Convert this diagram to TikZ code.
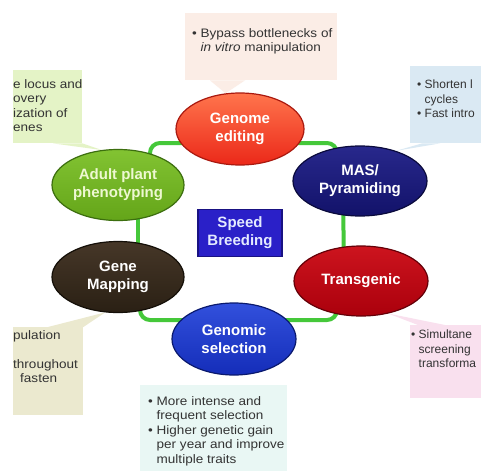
\documentclass[tikz,border=0pt]{standalone}
\usepackage{fontspec}
\setmainfont{Liberation Sans}
\newfontfamily\calloutfont[FakeStretch=1.1]{Liberation Sans}
\newfontfamily\calloutnarrow{Liberation Sans}
\usetikzlibrary{shapes.geometric,calc,backgrounds}
\pgfdeclarelayer{paper}
\pgfsetlayers{paper,background,main}
\definecolor{linkgreen}{HTML}{45C83A}
\definecolor{cpeach}{HTML}{FBEDE6}
\definecolor{cgreen}{HTML}{E4F3C6}
\definecolor{cblue}{HTML}{DAE9F3}
\definecolor{cbeige}{HTML}{EBE9CF}
\definecolor{cpink}{HTML}{F9E0EE}
\definecolor{ccyan}{HTML}{E9F7F4}
\definecolor{ctext}{HTML}{333333}
\tikzset{
  oval/.style={ellipse, line width=1.2pt, inner sep=0pt, align=center,
    minimum width=132pt, minimum height=71pt,
    font=\bfseries\fontsize{15}{18}\selectfont, text=white},
  link/.style={draw=linkgreen, line width=4pt, rounded corners=10pt},
  cbox/.style={rectangle, draw=none, inner sep=0pt, anchor=north west},
  ctxt/.style={inner sep=0pt, anchor=north west, align=left, text=ctext,
    font=\calloutfont\fontsize{12.3}{14.5}\selectfont},
  ctxtright/.style={ctxt, font=\calloutnarrow\fontsize{12}{14.5}\selectfont},
}
\newcommand{\bul}{\textbullet\ }
\newcommand{\ind}{\phantom{\textbullet\ }}
\begin{document}
\begin{tikzpicture}[x=1pt,y=-1pt]
\useasboundingbox (0,0) rectangle (481,471);
\begin{pgfonlayer}{paper}
\fill[white] (0,0) rectangle (481,471);
\end{pgfonlayer}
% callout boxes
\node[cbox, fill=cpeach, minimum width=152pt, minimum height=67pt] (b1) at (185,13) {};
\node[cbox, fill=cgreen, minimum width=69pt, minimum height=73pt] (b2) at (13,70) {};
\node[cbox, fill=cblue, minimum width=71pt, minimum height=77pt] (b3) at (410,66) {};
\node[cbox, fill=cbeige, minimum width=70pt, minimum height=88pt] (b4) at (13,327) {};
\node[cbox, fill=cpink, minimum width=71pt, minimum height=73pt] (b5) at (410,325) {};
\node[cbox, fill=ccyan, minimum width=147pt, minimum height=86pt] (b6) at (140,385) {};
% callout texts
\node[ctxt] (t1) at (192,28) {\bul Bypass bottlenecks of\\\ind\textit{in vitro} manipulation};
\node[ctxt] (t2) at (13,79) {e locus and\\overy\\ization of\\enes};
\node[ctxtright] (t3) at (417,80) {\bul Shorten l\\\ind cycles\\\bul Fast intro};
\node[ctxt] (t4) at (13,330) {pulation\\[14.5pt]throughout\\\hspace{7pt}fasten};
\node[ctxtright] (t5) at (411,330) {\bul Simultane\\\ind screening\\\ind transforma};
\node[ctxt] (t6) at (148,396) {\bul More intense and\\\ind frequent selection\\\bul Higher genetic gain\\\ind per year and improve\\\ind multiple traits};
% ovals
\node[oval, top color=red!55!orange!70!white, bottom color={rgb,255:red,235;green,40;blue,25}, draw={rgb,255:red,170;green,25;blue,15}, minimum width=128pt, minimum height=72pt] (genome) at (240,129) {Genome\\editing};
\node[oval, top color={rgb,255:red,40;green,40;blue,140}, bottom color={rgb,255:red,18;green,18;blue,105}, draw={rgb,255:red,10;green,10;blue,60}, minimum width=134pt, minimum height=70pt] (mas) at (360,181) {MAS/\\Pyramiding};
\node[oval, top color={rgb,255:red,205;green,20;blue,30}, bottom color={rgb,255:red,170;green,0;blue,12}, draw={rgb,255:red,100;green,0;blue,8}, minimum width=134pt, minimum height=70pt] (trans) at (361,281) {Transgenic};
\node[oval, top color={rgb,255:red,50;green,80;blue,220}, bottom color={rgb,255:red,20;green,45;blue,185}, draw={rgb,255:red,10;green,25;blue,110}, minimum width=124pt, minimum height=72pt] (genomic) at (234,339) {Genomic\\selection};
\node[oval, top color={rgb,255:red,70;green,55;blue,40}, bottom color={rgb,255:red,42;green,32;blue,20}, draw={rgb,255:red,20;green,15;blue,8}] (genemap) at (118,277) {Gene\\Mapping};
\node[oval, top color={rgb,255:red,130;green,195;blue,50}, bottom color={rgb,255:red,100;green,165;blue,25}, draw={rgb,255:red,60;green,110;blue,15}, text={rgb,255:red,238;green,248;blue,210}] (adult) at (118,185) {Adult plant\\phenotyping};
% centre box
\node[rectangle, fill={rgb,255:red,42;green,32;blue,200}, draw={rgb,255:red,25;green,18;blue,130}, line width=1.2pt, minimum width=84pt, minimum height=47pt, inner sep=0pt, align=center, text={rgb,255:red,228;green,234;blue,255}, font=\bfseries\fontsize{15}{18}\selectfont] (speed) at (240,233) {Speed\\Breeding};
\begin{pgfonlayer}{background}
% tails
\fill[cpeach] ($(b1.south west)+(25,0)$) -- ($(b1.south west)+(60,0)$) -- (genome.112) -- cycle;
\fill[cgreen] ($(b2.south west)+(40,0)$) -- (b2.south east) -- (adult.115) -- cycle;
\fill[cblue] ($(b3.south west)+(12,0)$) -- ($(b3.south west)+(30,0)$) -- (mas.40) -- cycle;
\fill[cbeige] ($(b4.north west)+(35,0)$) -- (b4.north east) -- (genemap.250) -- cycle;
\fill[cpink] ($(b5.north west)+(8,0)$) -- ($(b5.north west)+(35,0)$) -- (trans.310) -- cycle;
% green loop links
\draw[link] ($(adult.center)+(32,0)$) |- ($(genome.center)+(0,14)$);
\draw[link] ($(genome.center)+(0,14)$) -| ($(mas.center)+(-23,0)$);
\draw[link] ($(mas.center)+(-17,0)$) -- ($(trans.center)+(-17,0)$);
\draw[link] ($(trans.center)+(-24,0)$) |- ($(genomic.center)+(0,-19)$);
\draw[link] ($(genomic.center)+(0,-19)$) -| ($(genemap.center)+(22,0)$);
\draw[link] ($(genemap.center)+(20,0)$) -- ($(adult.center)+(20,0)$);
\end{pgfonlayer}
\end{tikzpicture}
\end{document}
